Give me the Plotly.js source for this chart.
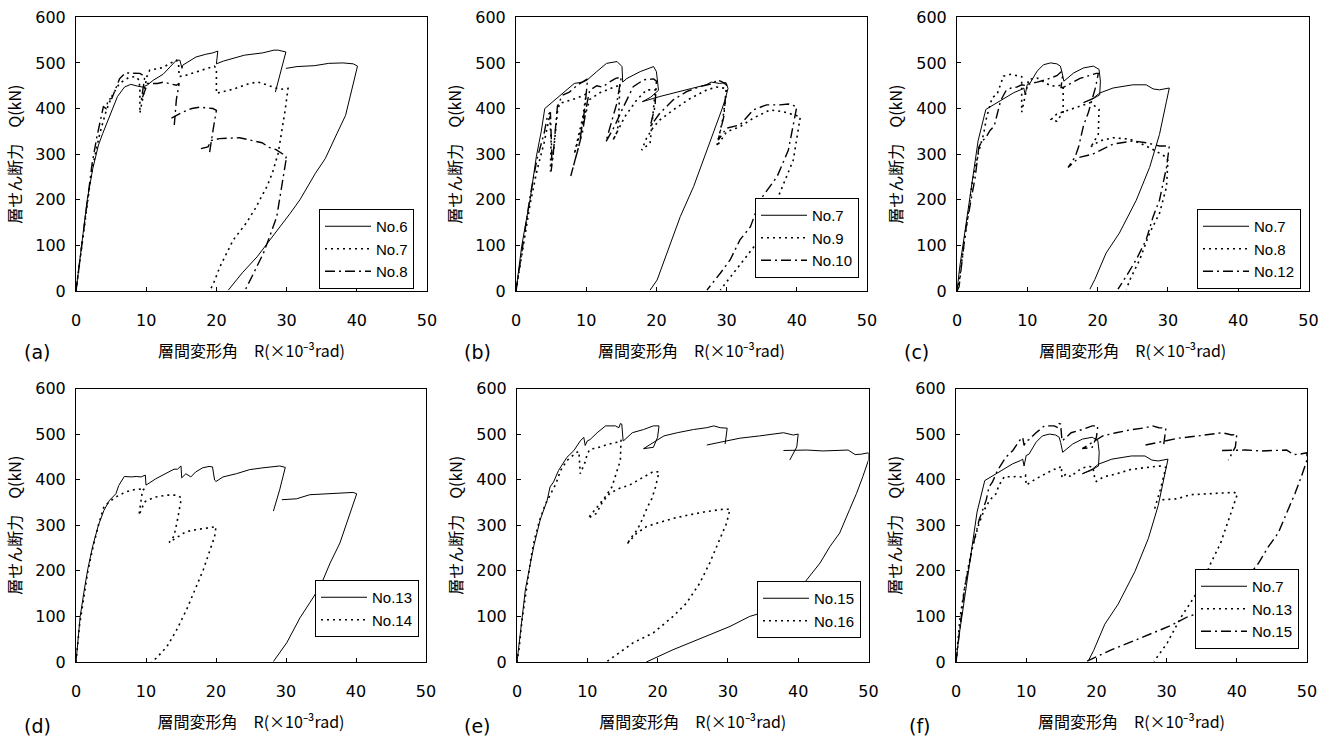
<!DOCTYPE html>
<html>
<head>
<meta charset="utf-8">
<script src="https://cdn.plot.ly/plotly-3.0.1.min.js"></script>
<style>
html,body{margin:0;padding:0;background:#fff;}
#chart{width:1333px;height:737px;}
</style>
</head>
<body>
<div id="chart"></div>
<script>
// ---------- tick labels ----------
const xTicks = [0, 10, 20, 30, 40, 50];
const yTicks = [0, 100, 200, 300, 400, 500, 600];
const panelLabels = ["(a)", "(b)", "(c)", "(d)", "(e)", "(f)"];
const xTitle = "層間変形角\u3000R(×10⁻³rad)";
const yTitle = "層せん断力\u3000Q(kN)";

// ---------- panel (a) ----------
const a_no6_x = [0,0.3,0.8,1.6,2.4,3.2,3.8,4.8,5.9,6.9,7.8,8.8,9.5,10.2,11,12.4,13.5,14.3,14.8,15.1,15.2,16,17.1,18.5,19.5,20.2,20.0,21,22.3,24,26.6,28.2,28.8,29.9,28.4,null,29.9,31.5,34,36,38,39.5,40.1,39.3,38.4,37.2,35.5,34.1,32.8,31.9,30.5,29.1,27.5,25.8,23.7,21.7];
const a_no6_y = [0,40,100,200,269,320,345,382,426,447,453,449,447,452,462,475,492,506,506,488,495,503,513,519,522,526,498,504,510,517,522,528,528,524,436,null,488,492,494,499,500,498,493,440,385,346,290,258,225,200,170,141,108,75,40,2];
const a_no7_x = [0,0.5,1.2,2.2,3.4,4.3,5.2,6.2,7.5,8.5,9.0,9.1,9.1,9.6,10.1,10.5,11.5,12.4,13.5,14.3,14.6,14.7,15.7,17.1,18.5,19.5,19.7,20.0,20.0,20.4,22.3,24.7,25.9,26.6,28,29,30.2,29.8,28.8,28,27.2,25.5,24.3,22.4,20.5,19.6,19.1];
const a_no7_y = [0,60,150,260,346,395,430,455,468,470,462,440,390,430,470,484,488,490,500,506,500,470,473,480,487,491,493,488,433,435,442,455,458,455,447,442,444,397,302,260,229,180,150,112,53,17,2];
const a_no8_x = [0,0.4,0.9,1.6,2.3,3,3.9,4.3,4.6,5.1,5.6,6.2,7,8,9.1,9.8,9.7,9.3,9.6,10.2,11.6,12.5,14.3,14.7,14.3,14,null,13.6,14.8,15.2,16.5,17.6,19.5,20,19.6,19,null,17.8,18.8,19.3,20.4,23.3,25.7,26.5,27.5,28.5,29.5,29.9,30,29.3,28.6,27.6,26.7,25.3,24.1];
const a_no8_y = [0,50,110,200,280,340,404,400,420,422,440,465,478,477,477,470,460,418,430,455,455,458,451,455,420,364,null,379,390,392,400,403,400,396,360,301,null,312,316,330,334,336,327,325,315,310,300,292,295,230,163,120,83,39,2];

// ---------- panel (b) ----------
const b_no7_x = [0,0.4,0.8,1.4,2,2.9,3.6,4.1,6,8.3,9.5,10.1,11.5,12.9,14.4,15.1,15.2,15.8,17.7,19.6,20,20.3,19.2,18,20.4,22.8,25,27.1,27.8,29,29.9,30.2,29.8,29.3,28.1,26.7,25.3,23.4,21.5,20.1,19.1];
const b_no7_y = [0,50,97,150,200,295,350,400,425,455,458,462,481,499,503,492,458,466,481,492,481,440,425,415,426,436,444,452,458,455,457,444,420,397,346,287,229,163,83,24,2];
const b_no9_x = [0,0.5,1,2,3,4,4.5,4.8,5.0,4.9,5.3,5.9,6.2,7.1,8.5,9.5,10.0,9.5,8.8,8.3,9.2,10.0,10.5,12.0,13.5,14.5,14.8,14.6,14.4,13.8,14.8,15.5,17.2,18.6,20.0,19.8,19.1,17.9,18.6,19.6,20.5,22.4,24.8,27.2,28.6,30.0,29.5,28.6,30.0,31.9,33.8,36.2,38.1,39.8,40.5,39.5,37.6,36.2,34.3,32.4,30.5,29.1];
const b_no9_y = [0,45,95,190,265,325,360,385,330,262,300,392,411,415,422,428,432,380,330,300,350,395,420,435,445,450,455,368,349,330,360,382,419,441,441,433,324,309,335,360,375,397,422,441,447,444,380,317,349,360,379,397,393,386,382,287,214,163,105,68,31,2];
const b_no10_x = [0,0.5,1,2,3,4,4.5,4.9,5.1,5.0,5.3,5.6,5.9,6.6,7.6,8.8,9.5,10.2,9.8,9.0,7.8,8.6,9.5,10.1,10.5,11.5,12.3,13.3,14.2,15.0,14.3,12.8,14.0,15.1,16.7,18.2,19.6,20.0,19.8,19.1,20.5,22.4,24.3,26.2,28.1,28.6,29.3,30.0,29.6,28.8,30.0,31.9,33.8,35.7,37.6,38.8,40.0,38.8,37.2,34.8,33.4,31.9,30.5,29.1,27.2];
const b_no10_y = [0,50,100,207,290,345,385,392,300,262,300,360,405,429,436,452,458,465,400,320,252,300,350,410,440,450,447,458,466,469,408,327,360,397,448,463,465,460,404,360,390,419,437,448,455,463,459,452,382,331,357,364,397,408,408,410,404,309,251,200,141,112,68,39,2];

// ---------- panel (c) ----------
const c_no7_x = [0,0.4,1.1,2,3,4.1,6.2,8.1,9.2,9.5,9.7,10,10.4,11.4,12.3,13.3,14.2,14.7,14.9,15.2,16.6,18,19.4,20.2,20.4,20.3,19.2,18,19.4,20.3,22.2,25,26.9,27.9,28.8,29.8,30.2,29.8,28.8,27.4,25.5,23.1,21.2,19.6,18.9];
const c_no7_y = [0,54,127,228,329,398,417,435,442,445,430,453,456,482,496,500,498,493,482,460,478,489,493,486,460,430,420,413,423,434,445,452,452,443,441,443,445,416,343,271,199,127,83,25,4];
const c_no8_x = [0,0.3,0.8,1.5,2.2,3,3.8,4.2,4.5,5,5.7,6.6,7.6,8.8,9.2,9.2,9.6,10,10.2,11.4,13.3,14.2,14.9,15.1,15.1,14.2,13.4,14.2,15.6,17.1,19,20.2,20.1,19.3,18.9,20.3,22.2,24.6,26.9,28.6,29.8,30,29.8,28.8,27.4,26,24.6,24.1];
const c_no8_y = [0,20,80,160,240,300,345,380,395,424,431,471,475,471,470,392,420,450,464,467,450,449,452,446,392,372,376,388,395,402,413,398,344,322,315,329,336,333,318,304,293,286,228,170,127,69,25,4];
const c_no12_x = [0,0.3,0.6,1.2,2,2.6,3.1,3.6,4,4.7,5.3,5.8,6.2,7,7.7,8.5,9.2,9.9,10.5,11.4,12.8,14.2,14.8,15,14.8,15.1,17.5,19.8,20.1,19.7,18.7,18,17.3,16.8,16.1,15.8,17.4,19.3,22.2,25,26.9,28.8,30.2,29.8,28.8,27.9,26.9,25.5,24.1,22.9];
const c_no12_y = [0,10,50,130,200,250,315,330,334,352,362,390,417,440,445,447,452,450,455,458,464,472,480,470,446,446,466,477,477,446,392,363,316,294,276,271,293,300,322,329,325,318,318,271,199,163,112,69,33,4];

// ---------- panel (d) ----------
const d_no13_x = [0,0.6,1.2,1.7,2.4,3.2,4,4.8,5.7,6.1,6.9,7.9,8.6,9.3,9.9,10,11.4,12.9,13.6,14,14.5,15,15.1,15.7,16.4,17.1,18.1,19,19.5,19.8,20,21,22.9,24.8,26.7,28.6,29.1,29.9,29.1,28.2,null,29.4,31.5,33.4,36.8,38.7,39.6,40.1,38.7,37.7,36.3,34.9,33.4,32,30.1,28.2];
const d_no13_y = [0,100,160,205,255,300,333,355,369,387,407,406,407,406,410,388,402,414,421,423,423,430,404,413,406,417,426,429,428,399,396,406,413,422,426,429,430,427,378,331,null,356,358,367,369,371,372,369,305,261,217,166,130,97,42,1];
const d_no14_x = [0,0.5,1,1.7,2.4,3.2,4,4.8,5.7,7.1,8.3,9.3,9.8,9.5,9,9.3,9.8,10.2,11.4,12.9,14.3,15,15,14.5,14,13.3,14.3,15.7,17.1,18.6,20,19.8,19,18.2,17.2,15.8,14.4,13,11.5,10.8];
const d_no14_y = [0,80,130,200,250,300,341,352,362,373,378,380,380,377,322,333,351,355,362,366,366,361,355,312,276,262,272,286,290,293,297,275,239,203,166,115,71,34,9,0];

// ---------- panel (e) ----------
const e_no15_x = [0,0.3,0.7,1.2,1.8,2.4,3.3,4.3,4.7,5.2,5.9,7.1,8.1,9,9.5,9.7,10,10.4,11.4,12.6,14,14.5,14.7,14.9,15.1,15.2,16.4,18,19.4,20.2,20,19.4,18,19.4,20.9,22.8,25.1,27,28,28.9,29.9,29.6,null,27,29.9,31.7,34.5,37.9,39.3,40,39.8,38.8,null,37.9,41.2,43.5,45.9,47.1,48.1,49,50,50,49.2,48.3,47.3,45.9,44.5,43.1,41.2,39.3,36.4,33.1,30.3,26.9,22.2,18.4];
const e_no15_y = [0,40,100,160,208,255,312,355,384,395,420,449,464,485,493,475,485,488,503,518,518,514,523,522,485,486,503,510,518,518,493,471,468,482,496,503,510,514,518,514,513,478,null,476,485,491,496,503,498,500,472,443,null,464,465,463,465,465,455,456,459,443,407,370,334,283,253,217,180,144,115,100,78,56,27,0];
const e_no16_x = [0,0.3,0.7,1.3,2,2.5,3.2,4,4.8,5.5,6.2,7.1,8.5,8.8,9,9.7,10,10.4,11.3,12.8,14.2,14.8,14.7,14,13.5,12.6,11.4,10.4,10.1,11.3,12.2,13.2,14.6,16,17.9,19.4,20.2,19.7,19.2,18.5,17.8,17.1,16.4,15.6,17,18.4,19.8,22.2,24.6,26.9,29.3,30.3,29.8,28.8,27.4,26,24.1,22.2,19.4,16.5,12.7];
const e_no16_y = [0,30,90,160,230,270,310,345,370,390,420,442,460,462,413,439,457,467,469,477,482,487,442,406,384,363,341,323,315,326,352,370,381,388,405,418,417,384,359,338,312,290,276,258,282,297,304,315,323,330,335,335,304,268,217,173,129,100,64,42,0];

// ---------- styles ----------
const STY = {
  solid:   {color:'#000', width:1,   dash:'solid'},
  dot:     {color:'#000', width:1.6, dash:'2px,4px'},
  dashdot: {color:'#000', width:1.4, dash:'10px,4px,2px,4px'}
};

function tr(x, y, name, sty, n) {
  const s = n === 1 ? '' : String(n);
  return {x:x, y:y, name:name, type:'scatter', mode:'lines',
          line:STY[sty], xaxis:'x'+s, yaxis:'y'+s,
          legend:'legend'+s, connectgaps:false, hoverinfo:'skip'};
}

const data = [
  tr(a_no6_x, a_no6_y, 'No.6', 'solid', 1),
  tr(a_no7_x, a_no7_y, 'No.7', 'dot', 1),
  tr(a_no8_x, a_no8_y, 'No.8', 'dashdot', 1),
  tr(b_no7_x, b_no7_y, 'No.7', 'solid', 2),
  tr(b_no9_x, b_no9_y, 'No.9', 'dot', 2),
  tr(b_no10_x, b_no10_y, 'No.10', 'dashdot', 2),
  tr(c_no7_x, c_no7_y, 'No.7', 'solid', 3),
  tr(c_no8_x, c_no8_y, 'No.8', 'dot', 3),
  tr(c_no12_x, c_no12_y, 'No.12', 'dashdot', 3),
  tr(d_no13_x, d_no13_y, 'No.13', 'solid', 4),
  tr(d_no14_x, d_no14_y, 'No.14', 'dot', 4),
  tr(e_no15_x, e_no15_y, 'No.15', 'solid', 5),
  tr(e_no16_x, e_no16_y, 'No.16', 'dot', 5),
  tr(c_no7_x, c_no7_y, 'No.7', 'solid', 6),
  tr(d_no13_x, d_no13_y, 'No.13', 'dot', 6),
  tr(e_no15_x, e_no15_y, 'No.15', 'dashdot', 6)
];

// ---------- layout ----------
const W = 1333, H = 737;
const tickFont = {family:'DejaVu Sans', size:16, color:'#000'};
const titleFont = {family:'Noto Sans CJK JP', size:16, color:'#000'};

function xa(d0, d1, anchor) {
  return {domain:[d0/W, d1/W], anchor:anchor, range:[0,50], tickvals:xTicks,
    ticktext:xTicks.map(String), ticks:'inside', ticklen:4, tickcolor:'#000',
    showline:true, mirror:true, linecolor:'#000', linewidth:1, showgrid:false,
    zeroline:false, tickfont:tickFont, ticklabelstandoff:15, automargin:false,
    title:{text:xTitle, font:titleFont, standoff:16}, fixedrange:true};
}
function ya(top, bot, anchor) {
  return {domain:[1-bot/H, 1-top/H], anchor:anchor, range:[0,600], tickvals:yTicks,
    ticktext:yTicks.map(String), ticks:'inside', ticklen:4, tickcolor:'#000',
    showline:true, mirror:true, linecolor:'#000', linewidth:1, showgrid:false,
    zeroline:false, tickfont:tickFont, ticklabelstandoff:6, automargin:false,
    title:{text:yTitle, font:titleFont, standoff:9}, fixedrange:true};
}
function lg(left, top) {
  return {x:left/W, y:1-top/H, xanchor:'left', yanchor:'top', bgcolor:'#fff',
    bordercolor:'#000', borderwidth:1, itemwidth:46,
    font:{family:'Liberation Sans', size:15, color:'#000'}, tracegroupgap:0};
}

const R1T = 17.3, R1B = 291, R2T = 388.5, R2B = 662;
const layout = {
  width:W, height:H, margin:{l:0, r:0, t:0, b:0},
  paper_bgcolor:'#fff', plot_bgcolor:'#fff', showlegend:true,
  xaxis:  xa(76, 427, 'y'),   yaxis:  ya(R1T, R1B, 'x'),
  xaxis2: xa(516, 867, 'y2'), yaxis2: ya(R1T, R1B, 'x2'),
  xaxis3: xa(957, 1308.5, 'y3'), yaxis3: ya(R1T, R1B, 'x3'),
  xaxis4: xa(76, 426, 'y4'),  yaxis4: ya(R2T, R2B, 'x4'),
  xaxis5: xa(517, 868.5, 'y5'), yaxis5: ya(R2T, R2B, 'x5'),
  xaxis6: xa(956, 1307, 'y6'), yaxis6: ya(R2T, R2B, 'x6'),
  legend:  lg(319, 209),
  legend2: lg(755, 198),
  legend3: lg(1197, 209),
  legend4: lg(315, 580),
  legend5: lg(757, 581),
  legend6: lg(1195, 569),
  annotations: [
    [22, 352], [462, 352], [902, 352], [22, 726], [462, 726], [907, 726]
  ].map((p, i) => ({
    text:panelLabels[i], x:p[0]/W, y:1-p[1]/H, xref:'paper', yref:'paper',
    xanchor:'left', yanchor:'middle', showarrow:false,
    font:{family:'DejaVu Sans', size:19, color:'#000'}
  }))
};

Plotly.newPlot('chart', data, layout, {staticPlot:true, displayModeBar:false});
</script>
</body>
</html>
